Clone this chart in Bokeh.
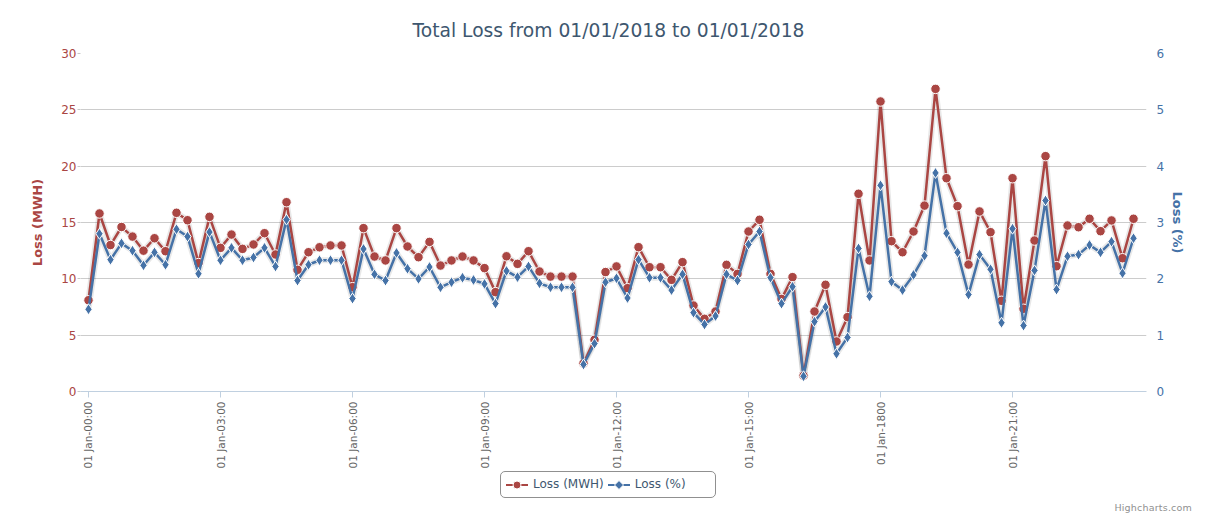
import math
from bokeh.plotting import figure
from bokeh.layouts import column
from bokeh.models import (Range1d, LinearAxis, FixedTicker, ColumnDataSource, Div)
from bokeh.embed import file_html
from bokeh.resources import INLINE

# ---------------- data ----------------
tick_labels = ["01 Jan-00:00", "01 Jan-03:00", "01 Jan-06:00", "01 Jan-09:00",
               "01 Jan-12:00", "01 Jan-15:00", "01 Jan-1800", "01 Jan-21:00"]

loss_mwh = [8.1, 15.8, 13.0, 14.6, 13.75, 12.5, 13.6, 12.45, 15.86, 15.2, 11.4, 15.5,
            12.75, 13.93, 12.66, 13.05, 14.05, 12.16, 16.8, 10.8, 12.36, 12.8, 12.96, 12.96,
            9.26, 14.5, 11.98, 11.63, 14.5, 12.87, 11.92, 13.28, 11.18, 11.63, 11.98, 11.63,
            10.95, 8.82, 12.0, 11.33, 12.45, 10.65, 10.2, 10.2, 10.2, 2.5, 4.59, 10.6,
            11.1, 9.17, 12.81, 11.03, 11.03, 9.91, 11.48, 7.63, 6.45, 7.1, 11.24, 10.44,
            14.2, 15.24, 10.44, 8.22, 10.15, 1.4, 7.1, 9.47, 4.44, 6.6, 17.55, 11.63,
            25.74, 13.34, 12.36, 14.2, 16.5, 26.86, 18.93, 16.45, 11.27, 15.98, 14.14, 8.05,
            18.93, 7.34, 13.4, 20.89, 11.12, 14.73, 14.58, 15.33, 14.23, 15.18, 11.83, 15.33]

loss_pct = [1.46, 2.80, 2.34, 2.63, 2.50, 2.24, 2.47, 2.25, 2.88, 2.75, 2.09, 2.83,
            2.33, 2.55, 2.33, 2.38, 2.55, 2.22, 3.05, 1.97, 2.25, 2.33, 2.33, 2.33,
            1.65, 2.53, 2.08, 1.97, 2.46, 2.18, 2.00, 2.21, 1.85, 1.94, 2.02, 1.98,
            1.91, 1.56, 2.14, 2.03, 2.22, 1.92, 1.85, 1.85, 1.85, 0.48, 0.85, 1.94,
            2.01, 1.66, 2.34, 2.02, 2.02, 1.80, 2.08, 1.40, 1.19, 1.34, 2.08, 1.97,
            2.61, 2.84, 2.02, 1.56, 1.86, 0.27, 1.24, 1.50, 0.67, 0.96, 2.54, 1.69,
            3.66, 1.95, 1.80, 2.07, 2.41, 3.88, 2.81, 2.47, 1.72, 2.43, 2.17, 1.22,
            2.89, 1.17, 2.15, 3.39, 1.81, 2.40, 2.43, 2.60, 2.47, 2.66, 2.10, 2.72]

series_names = ["Loss (MWH)", "Loss (%)"]
points_per_label = 12  # 15-minute samples, labels every 3 hours

# ---------------- styling ----------------
RED = "#AA4643"
BLUE = "#4572A7"
TITLE_COLOR = "#3E576F"
FONT = "DejaVu Sans"
W = 1204
H_MAIN = 471
H_LEG = 47
FRAME_L, FRAME_R, FRAME_T, FRAME_B = 80, 1146, 53, 391

idx = list(range(len(loss_mwh)))
src = ColumnDataSource(dict(x=idx, mwh=loss_mwh, pct=loss_pct))

X0, X1 = -0.727, 96.18
p = figure(width=W, height=H_MAIN, output_backend="svg", toolbar_location=None,
           x_range=Range1d(X0, X1), y_range=Range1d(0, 30),
           min_border_left=FRAME_L, min_border_right=W - FRAME_R,
           min_border_top=FRAME_T, min_border_bottom=H_MAIN - FRAME_B)
p.outline_line_color = None
p.background_fill_color = "white"
p.border_fill_color = "white"

p.title.text = "Total Loss from 01/01/2018 to 01/01/2018"
p.title.align = "left"
p.title.offset = 332
p.title.text_font = FONT
p.title.text_font_size = "18.7px"
p.title.text_font_style = "normal"
p.title.text_color = TITLE_COLOR
p.title.standoff = 25

p.extra_y_ranges = {"pct": Range1d(0, 6)}

# x axis
xa = p.xaxis[0]
xa.ticker = FixedTicker(ticks=[i * points_per_label for i in range(len(tick_labels))])
xa.major_label_overrides = {i * points_per_label: lab for i, lab in enumerate(tick_labels)}
xa.major_label_orientation = math.pi / 2
xa.major_label_text_font = FONT
xa.major_label_text_font_size = "10.5px"
xa.major_label_text_color = "#666666"
xa.major_label_standoff = 4
xa.axis_line_color = "#C0D0E0"
xa.major_tick_line_color = "#C0D0E0"
xa.major_tick_out = 6
xa.major_tick_in = 0
xa.minor_tick_line_color = None

# left axis
ya = p.yaxis[0]
ya.ticker = FixedTicker(ticks=[0, 5, 10, 15, 20, 25, 30])
ya.axis_label = series_names[0]
ya.axis_label_text_font = FONT
ya.axis_label_text_font_size = "13px"
ya.axis_label_text_font_style = "bold"
ya.axis_label_text_color = RED
ya.axis_label_standoff = 13
ya.major_label_text_font = FONT
ya.major_label_text_font_size = "12px"
ya.major_label_text_color = RED
ya.major_label_standoff = 1
ya.axis_line_color = None
ya.major_tick_line_color = "#C8C8C8"
ya.major_tick_out = 3
ya.major_tick_in = 0
ya.minor_tick_line_color = None

# right axis
yr = LinearAxis(y_range_name="pct", ticker=FixedTicker(ticks=[0, 1, 2, 3, 4, 5, 6]))
yr.axis_label = series_names[1]
yr.axis_label_text_font = FONT
yr.axis_label_text_font_size = "13px"
yr.axis_label_text_font_style = "bold"
yr.axis_label_text_color = BLUE
yr.axis_label_standoff = 3
yr.major_label_text_font = FONT
yr.major_label_text_font_size = "12px"
yr.major_label_text_color = BLUE
yr.major_label_standoff = 4
yr.axis_line_color = None
yr.major_tick_line_color = None
yr.minor_tick_line_color = None
p.add_layout(yr, "right")

p.xgrid.visible = False
p.ygrid.ticker = FixedTicker(ticks=[0, 5, 10, 15, 20, 25, 30])
p.ygrid.grid_line_color = "#CCCCCC"

# shadows
p.line("x", "mwh", source=src, line_color="black", line_alpha=0.09, line_width=6)
p.line("x", "pct", source=src, y_range_name="pct", line_color="black",
       line_alpha=0.09, line_width=6)

# series
p.line("x", "mwh", source=src, line_color=RED, line_width=2.5)
p.scatter("x", "mwh", source=src, marker="circle", size=9.5,
          fill_color=RED, line_color="white", line_width=1)
p.line("x", "pct", source=src, y_range_name="pct", line_color=BLUE, line_width=2.5)
p.scatter("x", "pct", source=src, y_range_name="pct", marker="diamond", size=11,
          fill_color=BLUE, line_color="white", line_width=1)

# ---------------- legend + credit strip ----------------
sym_red = ('<svg width="22" height="12" style="display:block">'
           f'<line x1="0" y1="6" x2="22" y2="6" stroke="{RED}" stroke-width="2"/>'
           f'<circle cx="11" cy="6" r="4" fill="{RED}" stroke="white" stroke-width="1"/></svg>')
sym_blue = ('<svg width="22" height="12" style="display:block">'
            f'<line x1="0" y1="6" x2="22" y2="6" stroke="{BLUE}" stroke-width="2"/>'
            f'<polygon points="11,1.5 15.5,6 11,10.5 6.5,6" fill="{BLUE}" stroke="white" '
            'stroke-width="1"/></svg>')

html = (
    f'<div style="position:relative;width:{W}px;height:{H_LEG}px;font-family:\'{FONT}\';">'
    '<div style="position:absolute;left:500px;top:0px;width:216px;height:27px;'
    'box-sizing:border-box;border:1px solid #909090;border-radius:5px;background:white;'
    f'display:flex;align-items:center;padding-left:5px;font-size:12px;color:{TITLE_COLOR};'
    'white-space:nowrap;">'
    f'{sym_red}<span style="margin-left:5px;margin-right:4px;">{series_names[0]}</span>'
    f'{sym_blue}<span style="margin-left:5px;">{series_names[1]}</span>'
    '</div>'
    '<div style="position:absolute;right:12px;top:30px;font-size:9.5px;color:#909090;'
    'letter-spacing:0.2px;white-space:nowrap;">Highcharts.com</div>'
    '</div>'
)
strip = Div(text=html, width=W, height=H_LEG, margin=0)

layout = column(p, strip, spacing=0)
open("out.html", "w").write(file_html(layout, INLINE))
